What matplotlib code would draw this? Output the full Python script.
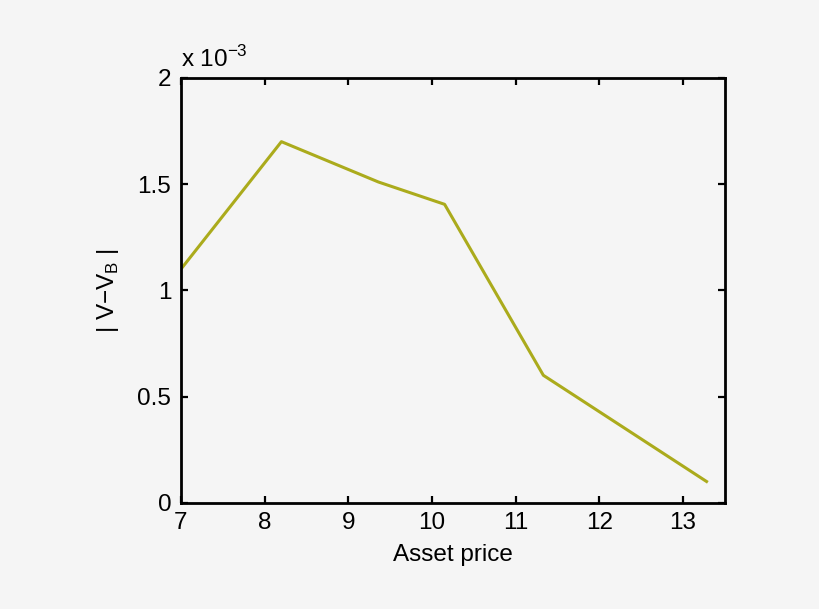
import matplotlib.pyplot as plt
from matplotlib.ticker import FuncFormatter

# asset price vs |V - V_B|
asset_price = [7.0, 8.2, 9.36, 10.15, 11.33, 13.28]
abs_diff = [1.1e-3, 1.7e-3, 1.51e-3, 1.405e-3, 0.6e-3, 0.1e-3]
x_ticks = [7, 8, 9, 10, 11, 12, 13]
y_ticks = [0, 0.5e-3, 1e-3, 1.5e-3, 2e-3]

plt.rcParams['font.family'] = ['Liberation Sans', 'DejaVu Sans']
plt.rcParams['mathtext.fontset'] = 'custom'
plt.rcParams['mathtext.rm'] = 'Liberation Sans'

bg = '#f5f5f5'
fig = plt.figure(figsize=(8.2, 6.09), dpi=100, facecolor=bg)
ax = fig.add_axes([0.2207, 0.1745, 0.8841 - 0.2207, 0.872 - 0.1745])
ax.set_facecolor(bg)

ax.plot(asset_price, abs_diff, color='#abab1c', linewidth=2.2)

ax.set_xlim(7, 13.5)
ax.set_ylim(0, 2e-3)
ax.set_xticks(x_ticks)
ax.set_yticks(y_ticks)
ax.yaxis.set_major_formatter(FuncFormatter(lambda v, p: f'{v * 1e3:g}'))

for s in ax.spines.values():
    s.set_linewidth(2.0)
ax.tick_params(direction='in', length=5, width=1.6, labelsize=17.5,
               top=True, right=True, pad=7)

ax.text(0.0, 1.015, r'x 10$^{\mathrm{-3}}$', transform=ax.transAxes,
        fontsize=17.5, ha='left', va='bottom')

ax.set_xlabel('Asset price', fontsize=17.5, labelpad=7)
ax.set_ylabel(r'| V$-$V$_\mathrm{B}$ |', fontsize=17.5, labelpad=12)

fig.savefig('out.png', dpi=100, facecolor=bg)
